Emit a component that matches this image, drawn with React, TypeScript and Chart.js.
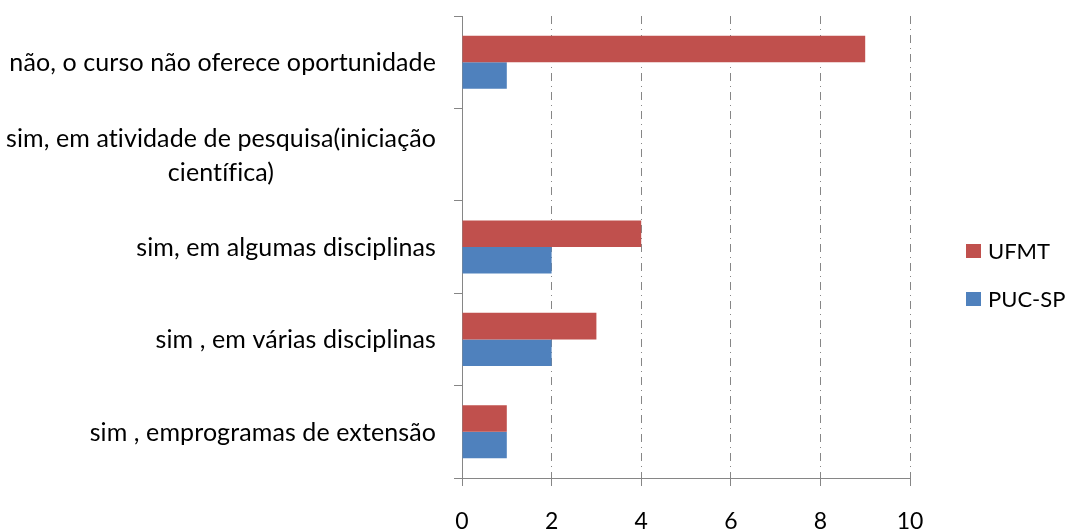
import React, { useEffect, useRef } from "react";
import { Chart, registerables } from "chart.js";

Chart.register(...registerables);

const categories: (string | string[])[] = [
  "não, o curso não oferece oportunidade",
  ["sim, em atividade de pesquisa(iniciação", "científica)"],
  "sim, em algumas disciplinas",
  "sim , em várias disciplinas",
  "sim , emprogramas de extensão",
];
const ufmtValues = [9, 0, 4, 3, 1];
const pucValues = [1, 0, 2, 2, 1];
const seriesNames = ["UFMT", "PUC-SP"];
const seriesColors = ["#C0504D", "#4F81BD"];
const xTicks = [0, 2, 4, 6, 8, 10];

const FONT = "Lato, 'Liberation Sans', sans-serif";
const AXIS = "#868686";

const labelPlugin = {
  id: "catLabels",
  afterDraw(chart: any) {
    const { ctx } = chart;
    const y = chart.scales.y;
    const rightX = 436;
    const lineH = 34;
    ctx.save();
    ctx.font = `25px ${FONT}`;
    try {
      (ctx as any).letterSpacing = "0.1px";
    } catch (e) {}
    ctx.fillStyle = "#000";
    ctx.textBaseline = "middle";
    (chart.data.labels as (string | string[])[]).forEach((lab, i) => {
      const lines = Array.isArray(lab) ? lab : [lab];
      const cy = y.getPixelForValue(i);
      const widest = Math.max(...lines.map((l) => ctx.measureText(l).width));
      const startY = cy - ((lines.length - 1) * lineH) / 2 + 1;
      lines.forEach((l, k) => {
        if (lines.length === 1) {
          ctx.textAlign = "right";
          ctx.fillText(l, rightX, startY);
        } else {
          ctx.textAlign = "center";
          ctx.fillText(l, rightX - widest / 2, startY + k * lineH);
        }
      });
    });
    ctx.restore();
  },
};

const legendPlugin = {
  id: "sideLegend",
  afterDraw(chart: any) {
    const { ctx } = chart;
    const x0 = 966;
    const cy0 = 251;
    const gap = 48;
    ctx.save();
    ctx.font = `22px ${FONT}`;
    ctx.textBaseline = "middle";
    ctx.textAlign = "left";
    chart.data.datasets.forEach((ds: any, i: number) => {
      const cy = cy0 + i * gap;
      ctx.fillStyle = ds.backgroundColor;
      ctx.fillRect(x0, cy - 7, 15, 14);
      ctx.fillStyle = "#000";
      ctx.fillText(ds.label, x0 + 22, cy + 1);
    });
    ctx.restore();
  },
};

export default function App() {
  const ref = useRef<HTMLCanvasElement | null>(null);
  useEffect(() => {
    if (!ref.current) return;
    const chart = new Chart(ref.current, {
      type: "bar",
      data: {
        labels: categories as any,
        datasets: [
          { label: seriesNames[0], data: ufmtValues, backgroundColor: seriesColors[0], borderWidth: 0 },
          { label: seriesNames[1], data: pucValues, backgroundColor: seriesColors[1], borderWidth: 0 },
        ],
      },
      options: {
        indexAxis: "y",
        responsive: false,
        animation: false,
        events: [],
        datasets: { bar: { categoryPercentage: 0.575, barPercentage: 1 } },
        layout: { padding: { left: 0, top: 16, right: 157, bottom: 0 } },
        plugins: { legend: { display: false }, tooltip: { enabled: false } },
        scales: {
          x: {
            type: "linear",
            min: 0,
            max: 10,
            afterBuildTicks: (s: any) => {
              s.ticks = xTicks.map((v) => ({ value: v }));
            },
            afterFit: (s: any) => {
              s.height = 52;
            },
            ticks: {
              color: "#000",
              font: { family: FONT, size: 23 },
              padding: 22,
            },
            grid: {
              color: (c: any) => (c.tick && c.tick.value === 0 ? "rgba(0,0,0,0)" : AXIS),
              lineWidth: 1,
              tickColor: AXIS,
              tickLength: 8,
              tickBorderDash: [],
            },
            border: { color: AXIS, width: 1, dash: [8, 5, 1, 5] },
          },
          y: {
            type: "category",
            afterFit: (s: any) => {
              s.width = 462;
            },
            ticks: { display: false },
            grid: {
              drawOnChartArea: false,
              tickColor: AXIS,
              tickLength: 8,
              offset: true,
            },
            border: { color: AXIS, width: 1 },
          },
        },
      },
      plugins: [labelPlugin, legendPlugin],
    });
    return () => chart.destroy();
  }, []);
  return (
    <div style={{ position: "fixed", left: 0, top: 0, width: 1067, height: 530, background: "#fff" }}>
      <canvas ref={ref} width={1067} height={530} style={{ width: 1067, height: 530 }} />
    </div>
  );
}
